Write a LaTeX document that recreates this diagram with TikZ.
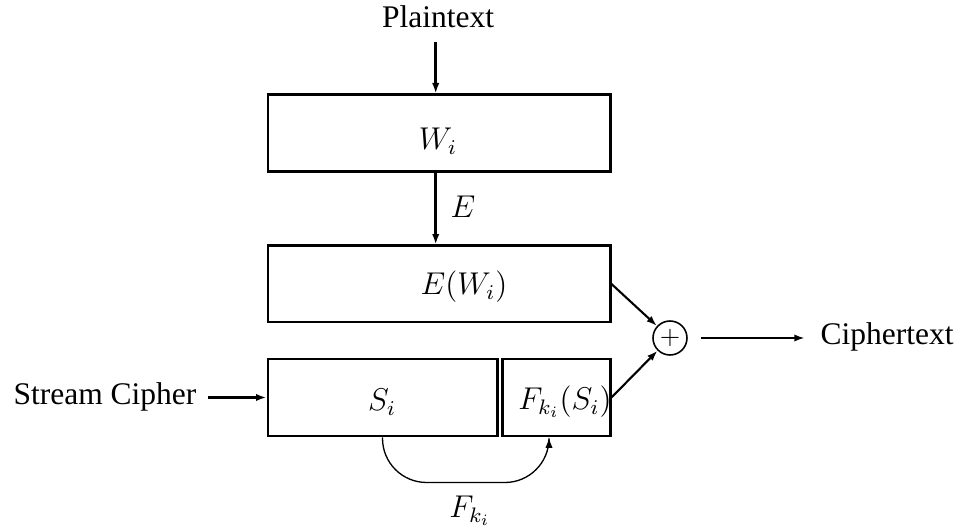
\documentclass[tikz,border=0pt]{standalone}
\usepackage{fontspec}
\setmainfont{Liberation Serif}
\usetikzlibrary{arrows.meta,fit}
\begin{document}
\begin{tikzpicture}[x=0.381pt,y=-0.381pt,
  font=\fontsize{12}{14}\selectfont,
  box/.style={draw,line width=1.14pt,inner sep=0pt,rectangle},
  txt/.style={inner sep=0pt,anchor=base},
  arr/.style={-{Latex[length=4pt,width=2.8pt]}},
  thickarr/.style={arr,line width=0.95pt},
  midarr/.style={arr,line width=0.8pt},
  thinarr/.style={arr,line width=0.5pt}]
\useasboundingbox (0,0) rectangle (961,531);
% boxes
\node[box,fit={(268,95)(610,172)}] (w) {};
\node[box,fit={(268,246)(610,322)}] (ew) {};
\node[box,fit={(268,359)(497,436)}] (s) {};
\node[box,fit={(502,359)(610,436)}] (f) {};
% texts
\node[txt] (plain) at (438,27.5) {Plaintext};
\node[txt] (wt) at (438,150) {$W_i$};
\node[txt] (elab) at (463,218) {$E$};
\node[txt] (ewt) at (464,295) {$E(W_i)$};
\node[txt] (st) at (382,411) {$S_i$};
\node[txt] (ft) at (565,410) {$F_{k_i}(S_i)$};
\node[txt] (sc) at (105,405) {Stream Cipher};
\node[txt] (ct) at (887,345) {Ciphertext};
\node[txt] (fk) at (470,518) {$F_{k_i}$};
% xor
\node[draw,circle,line width=0.6pt,minimum size=12.95pt,inner sep=0pt,
      font=\fontsize{10}{12}\selectfont] (x) at (670,338) {$+$};
% connectors
\coordinate (p1) at (435.7,42);
\draw[thickarr] (p1) -- (p1 |- w.north);
\draw[thickarr] (p1 |- w.south) -- (p1 |- ew.north);
\draw[midarr] (ew.east) -- (x);
\draw[midarr] (f.east) -- (x);
\draw[midarr,shorten <=5pt,shorten >=5.8pt] (x.east) -- (x.east -| ct.west);
\draw[midarr,shorten <=4.2pt] (sc.east |- s.west) -- (s.west);
\draw[thinarr,rounded corners=16.8pt] (s.south) -- ++(0,45) -| ([xshift=-2.67pt]f.south);
\end{tikzpicture}
\end{document}
